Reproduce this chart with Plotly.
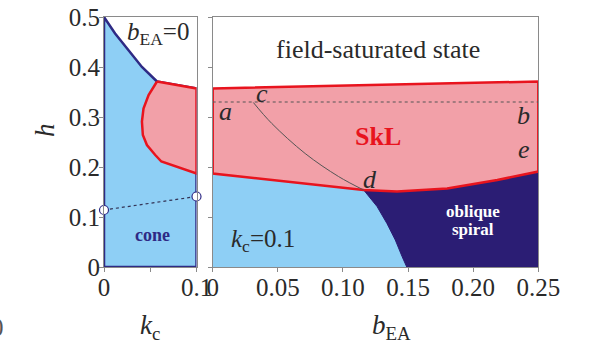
import plotly.graph_objects as go

# ---- left panel: phase diagram in the (k_c, h) plane at b_EA = 0 ----
kc_cone_edge = [0.0, 0.012, 0.0264, 0.041, 0.0573]
h_cone_edge = [0.5, 0.467, 0.434, 0.400, 0.371]
kc_skl_left = [0.0573, 0.1, 0.1, 0.062, 0.0554, 0.0464, 0.042, 0.041,
               0.0427, 0.0482, 0.0573]
h_skl_left = [0.371, 0.357, 0.187, 0.211, 0.224, 0.244, 0.264, 0.291,
              0.317, 0.344, 0.371]
kc_transition = [0.0, 0.1]
h_transition = [0.114, 0.141]

# ---- right panel: phase diagram in the (b_EA, h) plane at k_c = 0.1 ----
b_skl_top = [0.0, 0.25]
h_skl_top = [0.357, 0.371]
b_skl_bottom = [0.0, 0.0454, 0.1159, 0.1415, 0.18, 0.2185, 0.25]
h_skl_bottom = [0.187, 0.174, 0.154, 0.151, 0.157, 0.174, 0.191]
b_spiral_edge = [0.1159, 0.1262, 0.1338, 0.1402, 0.1454, 0.149]
h_spiral_edge = [0.154, 0.121, 0.087, 0.054, 0.021, 0.0]
b_ab = [0.0, 0.25]
h_ab = [0.33, 0.33]
b_cd = [0.0312, 0.0454, 0.071, 0.0966, 0.1159]
h_cd = [0.329, 0.287, 0.227, 0.181, 0.154]

left_xticks = [0, 0.05, 0.1]
left_xlabels = ["0", "", "0.1"]
right_xticks = [0, 0.05, 0.10, 0.15, 0.20, 0.25]
right_xlabels = ["0", "0.05", "0.10", "0.15", "0.20", "0.25"]
h_ticks = [0, 0.1, 0.2, 0.3, 0.4, 0.5]
h_labels = ["0", "0.1", "0.2", "0.3", "0.4", "0.5"]

CONE = "#8ecff5"
SKL = "#f2a0a8"
RED = "#e8141e"
NAVY = "#2b1d74"
EDGE = "#2e2a85"
FRAME = "#8a8a8a"
SERIF = "Liberation Serif"
INK = "#2a2a2a"

fig = go.Figure()

# left panel: cone region (outlined in navy), then skyrmion lattice on top
cone_x = [0.0] + kc_cone_edge + [0.1, 0.1, 0.0]
cone_y = [0.0] + h_cone_edge + [h_skl_left[1], 0.0, 0.0]
fig.add_trace(go.Scatter(x=cone_x, y=cone_y, fill="toself", fillcolor=CONE,
                         mode="lines", line=dict(color=EDGE, width=2.5),
                         xaxis="x", yaxis="y", hoverinfo="skip"))
fig.add_trace(go.Scatter(x=kc_skl_left, y=h_skl_left, fill="toself", fillcolor=SKL,
                         mode="lines", line=dict(color=RED, width=2.5),
                         xaxis="x", yaxis="y", hoverinfo="skip"))
fig.add_trace(go.Scatter(x=kc_transition, y=h_transition, mode="lines+markers",
                         line=dict(color="#333355", width=1.2, dash="dot"),
                         marker=dict(size=9, color="white", line=dict(color=EDGE, width=1.2)),
                         xaxis="x", yaxis="y", hoverinfo="skip", cliponaxis=False))

# right panel: cone background, oblique spiral, skyrmion lattice
blue_x = [0.0] + b_skl_bottom + [0.25, 0.0]
blue_y = [0.0] + h_skl_bottom + [0.0, 0.0]
fig.add_trace(go.Scatter(x=blue_x, y=blue_y, fill="toself", fillcolor=CONE,
                         mode="none", xaxis="x2", yaxis="y2", hoverinfo="skip"))
spiral_x = b_spiral_edge + [0.25] + b_skl_bottom[::-1][:5]
spiral_y = h_spiral_edge + [0.0] + h_skl_bottom[::-1][:5]
fig.add_trace(go.Scatter(x=spiral_x, y=spiral_y, fill="toself", fillcolor=NAVY,
                         mode="lines", line=dict(color=NAVY, width=1),
                         xaxis="x2", yaxis="y2", hoverinfo="skip"))
skl_x = b_skl_top + b_skl_bottom[::-1] + [b_skl_top[0]]
skl_y = h_skl_top + h_skl_bottom[::-1] + [h_skl_top[0]]
fig.add_trace(go.Scatter(x=skl_x, y=skl_y, fill="toself", fillcolor=SKL,
                         mode="lines", line=dict(color=RED, width=2.5),
                         xaxis="x2", yaxis="y2", hoverinfo="skip"))
fig.add_trace(go.Scatter(x=b_ab, y=h_ab, mode="lines",
                         line=dict(color="#555555", width=1.2, dash="dot"),
                         xaxis="x2", yaxis="y2", hoverinfo="skip"))
fig.add_trace(go.Scatter(x=b_cd, y=h_cd, mode="lines", line_shape="spline",
                         line=dict(color="#555555", width=1),
                         xaxis="x2", yaxis="y2", hoverinfo="skip"))

tick_font = dict(family=SERIF, size=25, color=INK)
axis_common = dict(showgrid=False, zeroline=False, showline=True, linecolor=FRAME,
                   linewidth=1, mirror=True, ticks="outside", ticklen=4,
                   tickcolor=FRAME, tickfont=tick_font, layer="above traces",
                   automargin=False)

x_dom_left = [104 / 590, 196.5 / 590]
x_dom_right = [212.7 / 590, 538.3 / 590]
y_dom = [1 - 267 / 347, 1 - 17 / 347]

fig.update_layout(
    width=590, height=347,
    margin=dict(l=0, r=0, t=0, b=0),
    paper_bgcolor="white", plot_bgcolor="white",
    showlegend=False,
    xaxis=dict(domain=x_dom_left, range=[0, 0.1], tickvals=left_xticks,
               ticktext=left_xlabels, anchor="y", ticklabelstandoff=-6, **axis_common),
    yaxis=dict(domain=y_dom, range=[0, 0.5], tickvals=h_ticks, ticktext=h_labels,
               anchor="x", ticklabelstandoff=-6, **axis_common),
    xaxis2=dict(domain=x_dom_right, range=[0, 0.25], tickvals=right_xticks,
                ticktext=right_xlabels, anchor="y2", ticklabelstandoff=-6, **axis_common),
    yaxis2=dict(domain=y_dom, range=[0, 0.5], tickvals=h_ticks, showticklabels=False,
                anchor="x2", **axis_common),
)


def label(text, x, y, xref, yref, size=25, color=INK, xanchor="center", **kw):
    fig.add_annotation(text=text, x=x, y=y, xref=xref, yref=yref, showarrow=False,
                       xanchor=xanchor, yanchor="middle",
                       font=dict(family=SERIF, size=size, color=color), **kw)


# left panel texts
label("<i>b</i><sub>EA</sub>=0", 0.058, 0.466, "x", "y")
label("<b>cone</b>", 0.052, 0.064, "x", "y", size=18, color=EDGE)

# right panel texts
label("field-saturated state", 0.127, 0.434, "x2", "y2", size=26)
label("<b>SkL</b>", 0.127, 0.262, "x2", "y2", size=26, color=RED)
label("<b>oblique</b>", 0.2, 0.111, "x2", "y2", size=17, color="white")
label("<b>spiral</b>", 0.2, 0.075, "x2", "y2", size=17, color="white")
label("<i>k</i><sub>c</sub>=0.1", 0.0385, 0.053, "x2", "y2")
label("<i>a</i>", 0.0095, 0.31, "x2", "y2", size=26)
label("<i>b</i>", 0.239, 0.302, "x2", "y2", size=26)
label("<i>c</i>", 0.0377, 0.346, "x2", "y2", size=26)
label("<i>d</i>", 0.121, 0.176, "x2", "y2", size=26)
label("<i>e</i>", 0.239, 0.236, "x2", "y2", size=26)

# axis titles
label("<i>h</i>", 45 / 590, 1 - 130 / 347, "paper", "paper", size=27, textangle=-90)
label("<i>k</i><sub>c</sub>", 150 / 590, 1 - 327 / 347, "paper", "paper", size=27)
label("<i>b</i><sub>EA</sub>", 391 / 590, 1 - 327 / 347, "paper", "paper", size=27)
label("0", 6 / 590, 1 - 327 / 347, "paper", "paper", size=25, color="#555555",
      xanchor="right")

fig.write_html("out.html")
